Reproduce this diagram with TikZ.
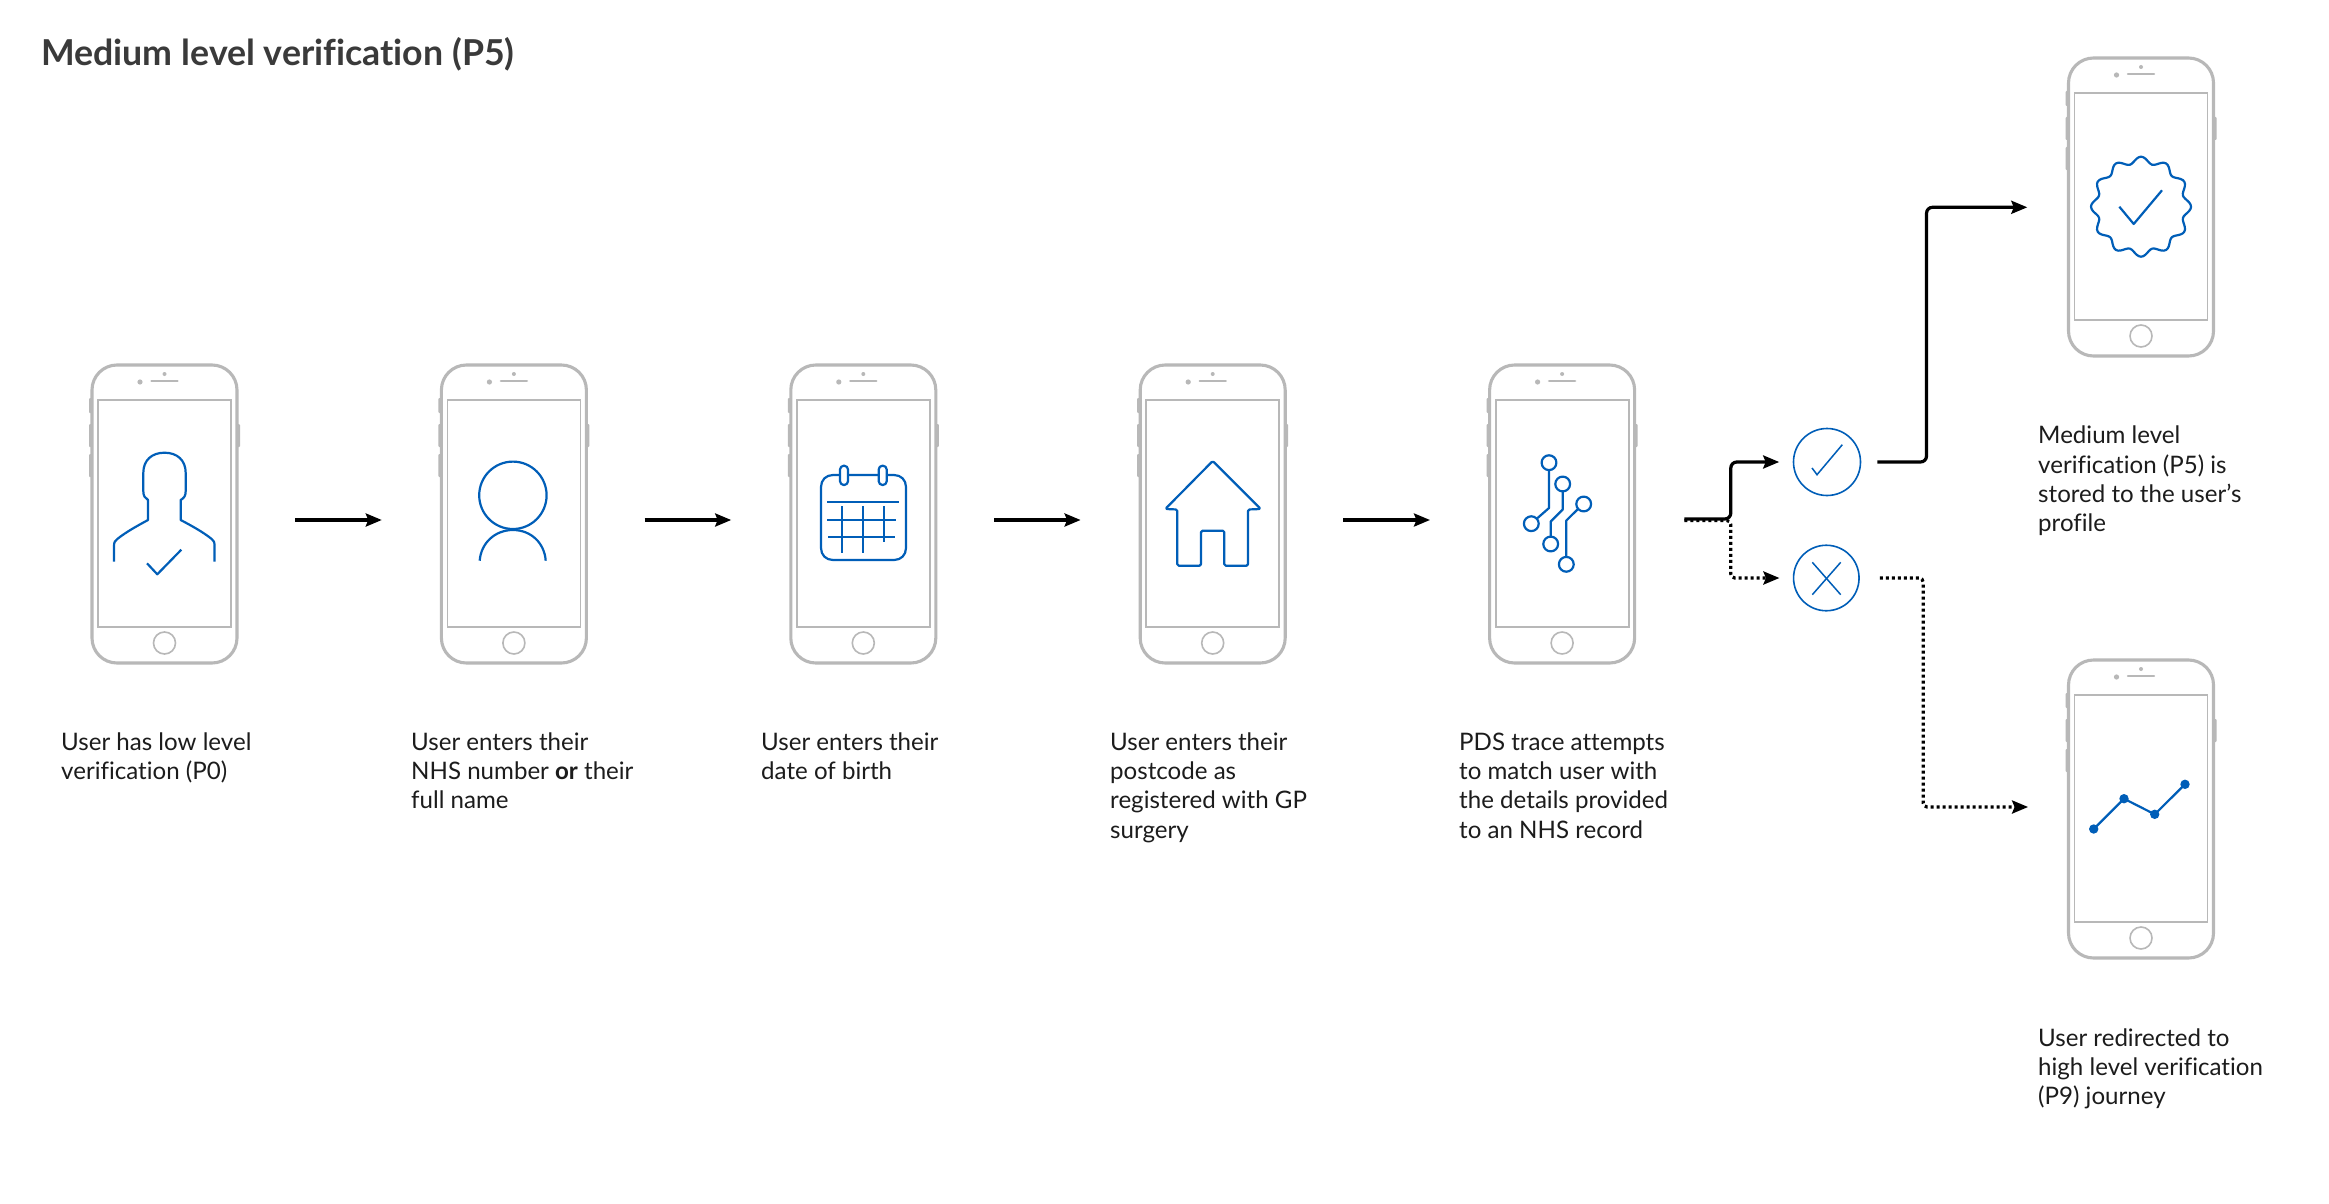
\documentclass[tikz,border=0pt]{standalone}
\usepackage{fontspec}
\setmainfont{Lato}[Ligatures=NoCommon]
\usetikzlibrary{arrows.meta}
\definecolor{nhsblue}{HTML}{005EB8}
\definecolor{phonegrey}{HTML}{B8B8B8}
\definecolor{titlegrey}{HTML}{3A3A3A}
\definecolor{bodyink}{HTML}{1C1C1C}
\tikzset{
  phonebox/.style={rectangle,minimum width=145pt,minimum height=298pt,inner sep=0pt},
  phoneline/.style={draw=phonegrey,line width=3.1pt},
  screenline/.style={draw=phonegrey,line width=1.8pt},
  sidebtn/.style={fill=phonegrey,draw=none,rounded corners=1pt},
  icon/.style={draw=nhsblue,line width=2.2pt,line join=round},
  thinicon/.style={draw=nhsblue,line width=1.5pt},
  flow/.style={draw=black,line width=3.2pt,-{Stealth[length=16pt,width=13pt,inset=2.5pt]}},
  dotflow/.style={flow,dash pattern=on 3pt off 3pt},
  caption/.style={anchor=north west,inner sep=0pt,align=left,text=bodyink,font=\fontsize{24.1}{29.3}\selectfont},
  titletext/.style={anchor=north west,inner sep=0pt,text=titlegrey,font=\fontsize{35.7}{40}\selectfont\bfseries},
  outcome/.style={circle,draw=nhsblue,line width=1.6pt,inner sep=0pt,fill=white}
}
\newcommand{\firstln}{\rule{0pt}{20pt}}
\newcommand{\phone}[3]{%
  \node[phonebox] (#1) at (#2,#3) {};
  \begin{scope}[shift={(#2,#3)}]
    \fill[sidebtn] (-75.5,-116) rectangle (-72,-101);
    \fill[sidebtn] (-75.5,-90) rectangle (-72,-67);
    \fill[sidebtn] (-75.5,-60) rectangle (-72,-37);
    \fill[sidebtn] (72,-90) rectangle (75.5,-67);
    \draw[phoneline,fill=white,rounded corners=25pt] (-72.5,-149) rectangle (72.5,149);
    \draw[screenline] (-66.5,-114) rectangle (66.5,113);
    \draw[phonegrey,line width=2.4pt,line cap=round] (-13,-133) -- (13,-133);
    \fill[phonegrey] (-24.5,-132) circle (2.6pt);
    \fill[phonegrey] (0,-140) circle (2pt);
    \draw[phonegrey,line width=1.6pt] (0,129) circle (11pt);
  \end{scope}}
\begin{document}
\begin{tikzpicture}[x=1pt,y=-1pt]
\useasboundingbox (0,0) rectangle (2329,1204);
\fill[white] (0,0) rectangle (2329,1204);

\node[titletext] (title) at (41,37.5) {\rule{0pt}{24.3pt}Medium level verification (P5)};

\phone{p1}{164.5}{514}
\phone{p2}{513.9}{514}
\phone{p3}{863.3}{514}
\phone{p4}{1212.7}{514}
\phone{p5}{1562.1}{514}
\phone{p6}{2141}{207}
\phone{p7}{2141}{809}

% person with tick
\draw[icon] (114,561.7) -- (114,546) .. controls (114,542) and (115,541) .. (117.3,539)
  .. controls (126,532) and (137,526) .. (148,520) -- (148,500)
  .. controls (145,498) and (143.3,496) .. (143.3,491) -- (143.3,473)
  .. controls (143.3,460) and (152,452.7) .. (164.5,452.7)
  .. controls (177,452.7) and (185.7,460) .. (185.7,473) -- (185.7,491)
  .. controls (185.7,496) and (184,498) .. (180.7,500) -- (180.7,520)
  .. controls (192,526) and (203,532) .. (211.7,539)
  .. controls (214,541) and (214.5,542) .. (214.5,546) -- (214.5,561.7);
\draw[icon] (147,563.3) -- (157.3,574.3) -- (181.3,549.7);

% person outline
\draw[icon] (512.9,495.3) circle (33.7pt);
\draw[icon] (479.7,560.7) .. controls (481,543) and (495,530) .. (512.9,530)
  .. controls (531,530) and (544.5,543) .. (545.7,560.7);

% calendar
\draw[icon] (833,475) -- (894,475) .. controls (901,475) and (906,480) .. (906,487)
  -- (906,548) .. controls (906,555) and (901,560) .. (894,560)
  -- (833,560) .. controls (826,560) and (821,555) .. (821,548)
  -- (821,487) .. controls (821,480) and (826,475) .. cycle;
\draw[icon,fill=white,rounded corners=3.8pt] (840,465.7) rectangle (848,485);
\draw[icon,fill=white,rounded corners=3.8pt] (878.7,465.7) rectangle (886.7,485);
\draw[icon] (827.3,502) -- (899.3,502);
\draw[icon] (827.3,520.3) -- (896,520.3);
\draw[icon] (828.3,537.3) -- (895,537.3);
\draw[icon] (842,506) -- (842,552.7);
\draw[icon] (863,506) -- (863,552.7);
\draw[icon] (884,506) -- (884,541.7);

% house
\draw[icon,rounded corners=1.5pt] (1212.7,461) -- (1165.3,509) -- (1177.3,509.5) -- (1177.3,565.7)
  -- (1201,565.7) -- (1201,530.7) -- (1224.3,530.7) -- (1224.3,565.7) -- (1248,565.7)
  -- (1248,509.5) -- (1260.7,509) -- cycle;

% circuit
\draw[icon] (1549,470.5) -- (1549,508) -- (1537,518.5);
\draw[icon] (1562.7,492) -- (1562.7,509.5) -- (1550.7,521.5) -- (1550.7,536.5);
\draw[icon] (1578,509) -- (1566.3,520.5) -- (1566.3,556.5);
\draw[icon] (1549,462.7) circle (7.4pt);
\draw[icon] (1562.7,484) circle (7.4pt);
\draw[icon] (1583.7,504) circle (7.4pt);
\draw[icon] (1531.3,523.7) circle (7.4pt);
\draw[icon] (1550.7,544) circle (7.4pt);
\draw[icon] (1566.3,564.3) circle (7.4pt);

% badge
\draw[icon] plot[smooth,domain=0:357.5,samples=144]
  ({2141+(46.7+3.3*cos(12*\x))*cos(\x)},{206.7+(46.7+3.3*cos(12*\x))*sin(\x)}) -- cycle;
\draw[icon] (2119.3,206.7) -- (2133.7,224) -- (2162,190.3);

% chart
\draw[icon] (2093.7,829) -- (2124,798.7) -- (2154.7,814.3) -- (2185,784.3);
\fill[nhsblue] (2093.7,829) circle (4.7pt);
\fill[nhsblue] (2124,798.7) circle (4.7pt);
\fill[nhsblue] (2154.7,814.3) circle (4.7pt);
\fill[nhsblue] (2185,784.3) circle (4.7pt);

% outcome circles
\node[outcome,minimum size=67pt] (ok) at (1827,462) {};
\node[outcome,minimum size=65.5pt] (no) at (1826.3,578) {};
\draw[thinicon] (1812,468) -- (1817,474.7) -- (1842.3,444.7);
\draw[thinicon] (1812.3,562.3) -- (1840.7,594.7);
\draw[thinicon] (1840.7,562.3) -- (1812.3,594.7);

% straight arrows
\draw[flow] ([shift={(58,6)}]p1.east) -- ([shift={(-59.4,6)}]p2.west);
\draw[flow] ([shift={(58,6)}]p2.east) -- ([shift={(-59.4,6)}]p3.west);
\draw[flow] ([shift={(58,6)}]p3.east) -- ([shift={(-59.4,6)}]p4.west);
\draw[flow] ([shift={(58,6)}]p4.east) -- ([shift={(-59.4,6)}]p5.west);

% branch
\draw[dotflow,rounded corners=4pt] ([shift={(49.5,6.5)}]p5.east) -- ++(46.5,0) |- ([xshift=-13.3pt]no.west);
\draw[flow,rounded corners=6pt] ([shift={(49.5,5)}]p5.east) -- ++(46.5,0) |- ([xshift=-13.5pt]ok.west);
\draw[flow,rounded corners=6pt] ([xshift=16pt]ok.east) -- ++(49.2,0) |- ([shift={(-41,0.3)}]p6.west);
\draw[dotflow,rounded corners=4pt] ([xshift=20pt]no.east) -- ++(43.3,0) |- ([shift={(-40.2,-2)}]p7.west);

% captions
\node[caption] (t1) at (61,730) {\firstln User has low level\\verification (P0)};
\node[caption] (t2) at (411,730) {\firstln User enters their\\NHS number \textbf{or} their\\full name};
\node[caption] (t3) at (761,730) {\firstln User enters their\\date of birth};
\node[caption] (t4) at (1110,730) {\firstln User enters their\\postcode as\\registered with GP\\surgery};
\node[caption] (t5) at (1459,730) {\firstln PDS trace attempts\\to match user with\\the details provided\\to an NHS record};
\node[caption] (t6) at (2038,423.5) {\firstln Medium level\\verification (P5) is\\stored to the user's\\profile};
\node[caption] (t7) at (2038,1026) {\firstln User redirected to\\high level verification\\(P9) journey};
\end{tikzpicture}
\end{document}
